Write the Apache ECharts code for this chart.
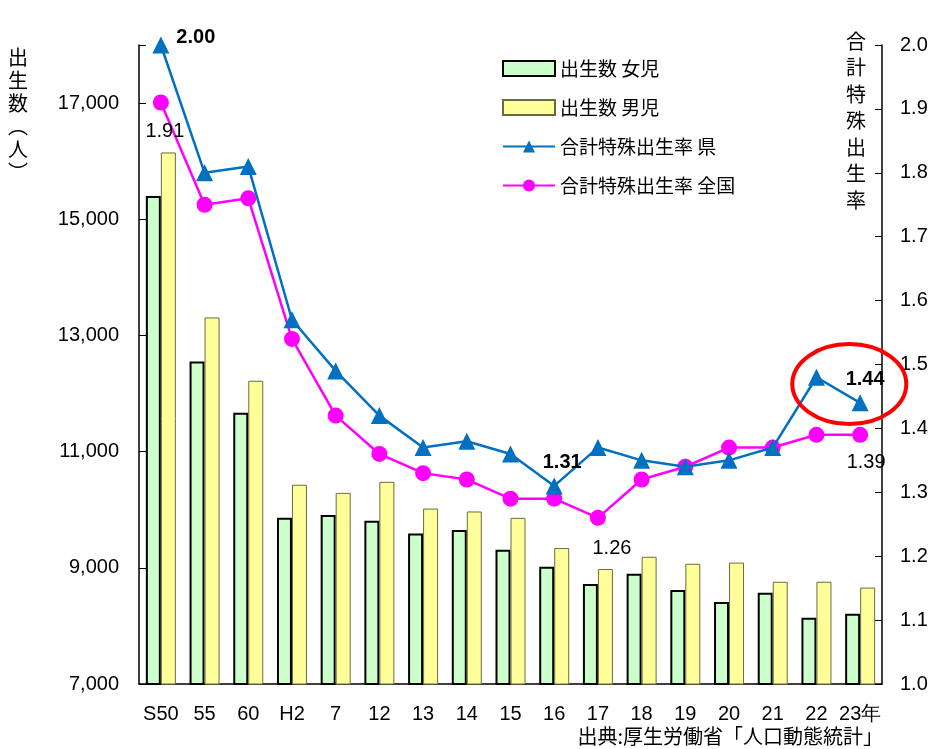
<!DOCTYPE html>
<html>
<head>
<meta charset="utf-8">
<script src="https://cdn.jsdelivr.net/npm/echarts@6/dist/echarts.min.js"></script>
<style>
    html, body { margin: 0; padding: 0; background: #fff; }
    #main { width: 935px; height: 749px; }
</style>
</head>
<body>
<div id="main"></div>
<script>
    // 年（和暦）
    var years = ['S50', '55', '60', 'H2', '7', '12', '13', '14', '15', '16', '17', '18', '19', '20', '21', '22', '23年'];
    // 出生数（人）
    var girls = [15400, 12550, 11670, 9860, 9910, 9810, 9590, 9650, 9310, 9020, 8720, 8900, 8620, 8410, 8570, 8140, 8210];
    var boys = [16150, 13310, 12220, 10430, 10290, 10480, 10020, 9970, 9860, 9340, 8980, 9190, 9070, 9090, 8760, 8760, 8660];
    // 合計特殊出生率
    var rateKen = [2.00, 1.80, 1.81, 1.57, 1.49, 1.42, 1.37, 1.38, 1.36, 1.31, 1.37, 1.35, 1.34, 1.35, 1.37, 1.48, 1.44];
    var rateZenkoku = [1.91, 1.75, 1.76, 1.54, 1.42, 1.36, 1.33, 1.32, 1.29, 1.29, 1.26, 1.32, 1.34, 1.37, 1.37, 1.39, 1.39];
    var leftTicks = [7000, 9000, 11000, 13000, 15000, 17000];

    var numFont = 'Arial, "Liberation Sans", sans-serif';
    var narrowFont = '"Liberation Sans Narrow", "Arial Narrow", "Liberation Sans", sans-serif';
    var jpFont = '"Noto Sans CJK JP", sans-serif';

    // ラベルを付ける点
    var kenLabels = {
        0: { show: true, position: 'right', offset: [2, -8], fontWeight: 'bold' },
        9: { show: true, position: 'top', offset: [8, 0], fontWeight: 'bold' },
        16: { show: true, position: 'top', offset: [5, 0], fontWeight: 'bold' }
    };
    var zenLabels = {
        0: { show: true, position: 'bottom', offset: [4, 6] },
        10: { show: true, position: 'bottom', offset: [14, 8] },
        16: { show: true, position: 'bottom', offset: [6, 5] }
    };

    function withLabels(values, labels) {
        return values.map(function (v, i) {
            var item = { value: v };
            if (labels[i]) {
                item.label = Object.assign({
                    formatter: function (p) { return p.value.toFixed(2); },
                    color: '#000',
                    fontSize: 20,
                    fontFamily: narrowFont
                }, labels[i]);
            }
            return item;
        });
    }

    var chart = echarts.init(document.getElementById('main'));
    var option = {
        animation: false,
        grid: { left: 139, right: 53, top: 45, bottom: 65 },
        legend: {
            left: 497,
            top: 54,
            orient: 'vertical',
            itemWidth: 52,
            itemHeight: 15,
            itemGap: 20,
            textStyle: { fontSize: 19, fontFamily: jpFont, color: '#000' },
            data: [
                { name: '出生数 女児', icon: 'rect' },
                { name: '出生数 男児', icon: 'rect' },
                '合計特殊出生率 県',
                '合計特殊出生率 全国'
            ]
        },
        xAxis: {
            type: 'category',
            data: years,
            axisLine: { lineStyle: { color: '#000', width: 1.5 } },
            axisTick: { inside: true, length: 6, lineStyle: { color: '#000' } },
            axisLabel: { color: '#000', fontSize: 20, fontFamily: narrowFont, margin: 20, interval: 0 }
        },
        yAxis: [
            {
                type: 'value',
                min: 7000,
                max: 18000,
                interval: 2000,
                splitLine: { show: false },
                axisLine: { show: true, lineStyle: { color: '#000', width: 1.5 } },
                axisTick: { show: true, inside: true, length: 7, lineStyle: { color: '#000' } },
                axisLabel: {
                    color: '#000',
                    fontSize: 20,
                    fontFamily: numFont,
                    margin: 20,
                    formatter: function (v) {
                        return leftTicks.indexOf(v) >= 0 ? v.toLocaleString('en-US') : '';
                    }
                }
            },
            {
                type: 'value',
                min: 1.0,
                max: 2.0,
                interval: 0.1,
                splitLine: { show: false },
                axisLine: { show: true, lineStyle: { color: '#000', width: 1.5 } },
                axisTick: { show: true, inside: true, length: 7, lineStyle: { color: '#000' } },
                axisLabel: {
                    color: '#000',
                    fontSize: 20,
                    fontFamily: numFont,
                    margin: 18,
                    formatter: function (v) { return v.toFixed(1); }
                }
            }
        ],
        series: [
            {
                name: '出生数 女児',
                type: 'bar',
                data: girls,
                barWidth: 15,
                barGap: '0%',
                itemStyle: { color: '#CCFFCC', borderColor: '#000', borderWidth: 2 }
            },
            {
                name: '出生数 男児',
                type: 'bar',
                data: boys,
                barWidth: 15,
                itemStyle: { color: '#FFFF99', borderColor: '#6b6b40', borderWidth: 1 }
            },
            {
                name: '合計特殊出生率 県',
                type: 'line',
                yAxisIndex: 1,
                data: withLabels(rateKen, kenLabels),
                symbol: 'triangle',
                symbolSize: 17,
                z: 4,
                lineStyle: { color: '#0070C0', width: 2.5 },
                itemStyle: { color: '#0070C0' }
            },
            {
                name: '合計特殊出生率 全国',
                type: 'line',
                yAxisIndex: 1,
                data: withLabels(rateZenkoku, zenLabels),
                symbol: 'circle',
                symbolSize: 16,
                z: 3,
                lineStyle: { color: '#FF00FF', width: 2.5 },
                itemStyle: { color: '#FF00FF' }
            }
        ]
    };
    chart.setOption(option);

    // 軸タイトル・出典・直近2年を囲む赤い楕円
    var p22 = chart.convertToPixel({ seriesIndex: 2 }, [15, rateKen[15]]);
    var p23 = chart.convertToPixel({ seriesIndex: 2 }, [16, rateKen[16]]);
    chart.setOption({
        graphic: [
            {
                type: 'text', left: 8, top: 46,
                style: { text: '出\n生\n数\n︵\n人\n︶', fontSize: 20, lineHeight: 23, fontFamily: jpFont, fill: '#000' }
            },
            {
                type: 'text', left: 846, top: 28,
                style: { text: '合\n計\n特\n殊\n出\n生\n率', fontSize: 20, lineHeight: 26.5, fontFamily: jpFont, fill: '#000' }
            },
            {
                type: 'text', right: 52, top: 726,
                style: { text: '出典:厚生労働省「人口動態統計」', fontSize: 20, fontFamily: jpFont, fill: '#000' }
            },
            {
                type: 'ellipse',
                shape: { cx: (p22[0] + p23[0]) / 2 + 11, cy: (p22[1] + p23[1]) / 2 - 6, rx: 57, ry: 40 },
                style: { fill: 'none', stroke: '#FF0000', lineWidth: 4 },
                z: 10
            }
        ]
    });
</script>
</body>
</html>
